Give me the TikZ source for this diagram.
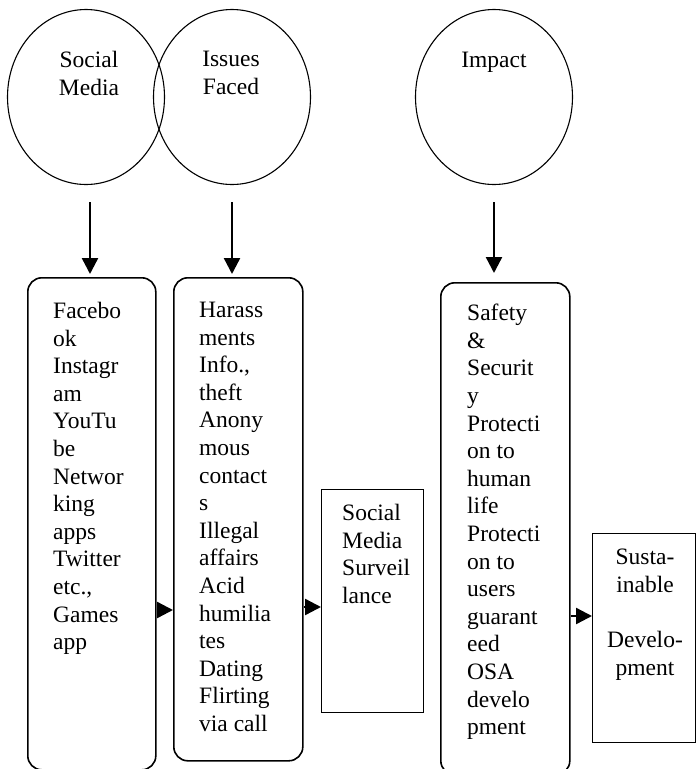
\documentclass[tikz,border=0pt]{standalone}
\usepackage{fontspec}
\setmainfont{Liberation Serif}
\usetikzlibrary{arrows.meta,positioning,shapes.geometric}

\tikzset{
  bubble/.style={ellipse,draw,line width=1.1pt,minimum width=157pt,minimum height=175pt,inner sep=0pt},
  roundbox/.style={rectangle,draw,line width=1.6pt,rounded corners=14pt,anchor=north west,inner sep=0pt},
  plainbox/.style={rectangle,draw,line width=1.4pt,anchor=north west,inner sep=0pt},
  txt/.style={inner sep=0pt,align=left,anchor=north west,font=\fontsize{23.5pt}{27.6pt}\selectfont},
  ctxt/.style={txt,align=center,anchor=north},
  arr/.style={-{Triangle[length=16pt,width=16pt]},line width=2.4pt}
}

\begin{document}
\begin{tikzpicture}[x=1pt,y=-1pt]
    \useasboundingbox (0,0) rectangle (696,769);

    % Top circles
    \node[bubble] (sm) at (86,97) {};
    \node[ctxt] (smt) at (89,51) {Social\\Media};
    \node[bubble] (is) at (232,97) {};
    \node[ctxt] (ist) at (231,51) {Issues\\Faced};
    \node[bubble] (im) at (494,97) {};
    \node[ctxt] (imt) at (494,52) {Impact};

    % Social media platforms
    \node[roundbox,minimum width=128pt,minimum height=492pt] (fb) at (27,277) {};
    \node[txt] (fbt) at (53,302) {Facebo\\ok\\Instagr\\am\\YouTu\\be\\Networ\\king\\apps\\Twitter\\etc.,\\Games\\app};

    % Issues faced
    \node[roundbox,minimum width=129pt,minimum height=483pt] (iss) at (173,277) {};
    \node[txt] (isst) at (199,302) {Harass\\ments\\Info.,\\theft\\Anony\\mous\\contact\\s\\Illegal\\affairs\\Acid\\humilia\\tes\\Dating\\Flirting\\via call};

    % Surveillance
    \node[plainbox,minimum width=102pt,minimum height=223pt] (sur) at (321,489) {};
    \node[txt] (surt) at (342,504) {Social\\Media\\Surveil\\lance};

    % Impact
    \node[roundbox,minimum width=129pt,minimum height=492pt] (saf) at (440,282) {};
    \node[txt] (saft) at (467,304) {Safety\\\&\\Securit\\y\\Protecti\\on to\\human\\life\\Protecti\\on to\\users\\guarant\\eed\\OSA\\develo\\pment};

    % Sustainable development
    \node[plainbox,minimum width=103pt,minimum height=209pt] (sus) at (592,533) {};
    \node[ctxt] (sust) at (645,549) {Susta-\\inable\\[27.6pt]Develo-\\pment};

    % Arrows
    \draw[arr,shorten <=17pt,shorten >=3pt] ([xshift=4pt]sm.south) -- ([xshift=4pt]sm.south |- fb.north);
    \draw[arr,shorten <=17pt,shorten >=3pt] (is.south) -- (is.south |- iss.north);
    \draw[arr,shorten <=17pt,shorten >=9pt] (im.south) -- (im.south |- saf.north);
    \draw[arr] (fb.east |- 0,610) -- (iss.west |- 0,610);
    \draw[arr] (iss.east |- 0,607) -- (sur.west |- 0,607);
    \draw[arr] (saf.east |- 0,616) -- (sus.west |- 0,616);
\end{tikzpicture}
\end{document}
